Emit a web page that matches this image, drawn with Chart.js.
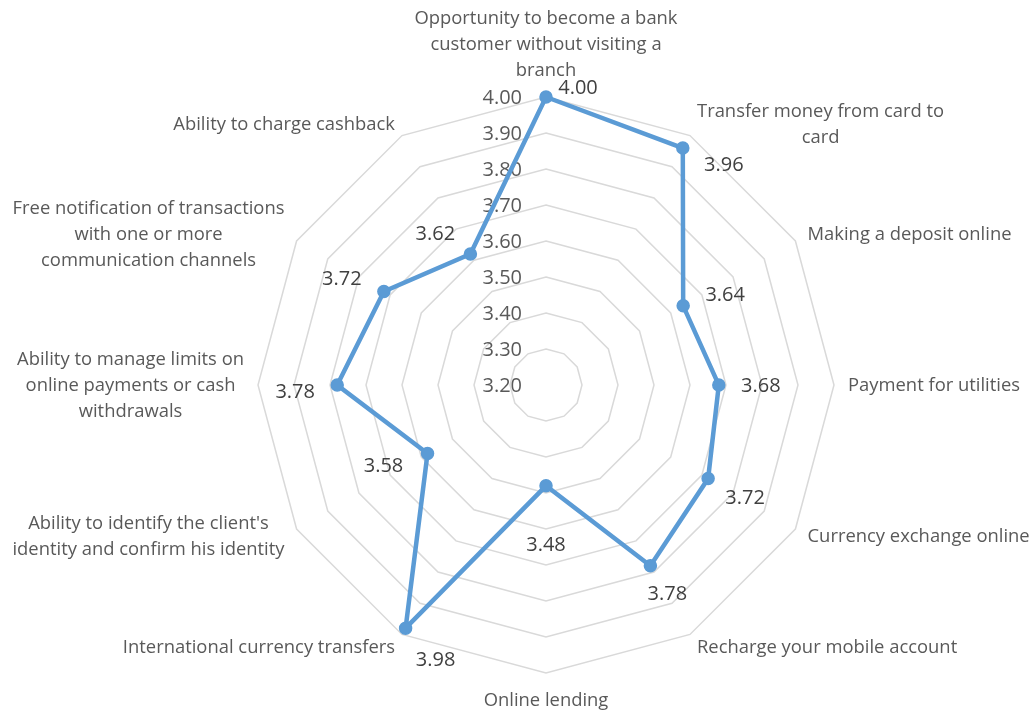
<!DOCTYPE html>
<html>
<head>
<meta charset="utf-8">
<script src="https://cdn.jsdelivr.net/npm/chart.js@4.4.0/dist/chart.umd.min.js"></script>
<style>
    body { margin: 0; background: #fff; }
    #wrap { width: 1031px; height: 713px; position: relative; }
</style>
</head>
<body>
<div id="wrap"><canvas id="radarChart"></canvas></div>
<script>
// categories, clockwise from the top
var categories = [
    ['Opportunity to become a bank', 'customer without visiting a', 'branch'],
    ['Transfer money from card to', 'card'],
    ['Making a deposit online'],
    ['Payment for utilities'],
    ['Currency exchange online'],
    ['Recharge your mobile account'],
    ['Online lending'],
    ['International currency transfers'],
    ["Ability to identify the client's", 'identity and confirm his identity'],
    ['Ability to manage limits on', 'online payments or cash', 'withdrawals'],
    ['Free notification of transactions', 'with one or more', 'communication channels'],
    ['Ability to charge cashback']
];
var scores = [4.00, 3.96, 3.64, 3.68, 3.72, 3.78, 3.48, 3.98, 3.58, 3.78, 3.72, 3.62];
var tickValues = [3.20, 3.30, 3.40, 3.50, 3.60, 3.70, 3.80, 3.90, 4.00];

var textGray = '#595959';
var lineBlue = '#5B9BD5';

// where each value label sits relative to its point (dx, dy)
var labelOffsets = [
    [32, -9], [41, 17], [42, -11], [42, 1], [37, 20], [17, 28],
    [0, 59], [30, 32], [-44, 13], [-42, 7], [-42, -12], [-35, -20]
];

// tick labels drawn left of the vertical axis, under the line
var tickLabelPlugin = {
    id: 'tickLabels',
    beforeDatasetsDraw: function(chart) {
        var scale = chart.scales.r;
        var ctx = chart.ctx;
        ctx.save();
        ctx.font = '20px "Open Sans"';
        ctx.fillStyle = textGray;
        ctx.textAlign = 'right';
        ctx.textBaseline = 'middle';
        tickValues.forEach(function(v) {
            var y = scale.yCenter - scale.getDistanceFromCenterForValue(v);
            ctx.fillText(v.toFixed(2), scale.xCenter - 24, y + 1);
        });
        ctx.restore();
    }
};

// category labels, centred lines, placed like Excel does it
var categoryLabelPlugin = {
    id: 'categoryLabels',
    afterDraw: function(chart) {
        var scale = chart.scales.r;
        var ctx = chart.ctx;
        var lineH = 26;
        ctx.save();
        ctx.font = '18.4px "Open Sans"';
        ctx.fillStyle = textGray;
        ctx.textAlign = 'center';
        ctx.textBaseline = 'middle';
        categories.forEach(function(lines, i) {
            var pos = scale.getPointPosition(i, scale.drawingArea + 14);
            var angle = i * 360 / categories.length;
            var widest = 0;
            lines.forEach(function(t) { widest = Math.max(widest, ctx.measureText(t).width); });
            var h = lines.length * lineH;
            var cx, top;
            if (angle === 0) {
                cx = pos.x; top = pos.y - h;
            } else if (angle === 180) {
                cx = pos.x; top = pos.y;
            } else if (angle < 180) {
                cx = pos.x + widest / 2; top = pos.y - h / 2;
            } else {
                cx = pos.x - widest / 2; top = pos.y - h / 2;
            }
            lines.forEach(function(t, k) {
                ctx.fillText(t, cx, top + lineH * k + lineH / 2 + 1);
            });
        });
        ctx.restore();
    }
};

// value labels next to the points
var valueLabelPlugin = {
    id: 'valueLabels',
    afterDatasetsDraw: function(chart) {
        var meta = chart.getDatasetMeta(0);
        var ctx = chart.ctx;
        ctx.save();
        ctx.font = '20px "Open Sans"';
        ctx.fillStyle = '#404040';
        ctx.textAlign = 'center';
        ctx.textBaseline = 'middle';
        meta.data.forEach(function(pt, i) {
            var off = labelOffsets[i];
            ctx.fillText(scores[i].toFixed(2), pt.x + off[0], pt.y + off[1]);
        });
        ctx.restore();
    }
};

var ctx = document.getElementById('radarChart').getContext('2d');
var radarChart = new Chart(ctx, {
    type: 'radar',
    data: {
        labels: categories,
        datasets: [{
            label: 'Score',
            data: scores,
            borderColor: lineBlue,
            backgroundColor: lineBlue,
            borderWidth: 4.5,
            fill: false,
            tension: 0,
            pointRadius: 6,
            pointBorderWidth: 1.5,
            pointBackgroundColor: lineBlue,
            pointBorderColor: lineBlue
        }]
    },
    options: {
        responsive: true,
        maintainAspectRatio: false,
        animation: false,
        layout: {
            padding: { top: 97, bottom: 40, left: 100, right: 39 }
        },
        plugins: {
            legend: { display: false },
            tooltip: { enabled: false }
        },
        scales: {
            r: {
                min: 3.2,
                max: 4.0,
                ticks: { stepSize: 0.1, display: false },
                grid: { color: '#D9D9D9', lineWidth: 1.5 },
                angleLines: { display: false },
                pointLabels: { display: false }
            }
        }
    },
    plugins: [tickLabelPlugin, categoryLabelPlugin, valueLabelPlugin]
});
</script>
</body>
</html>
